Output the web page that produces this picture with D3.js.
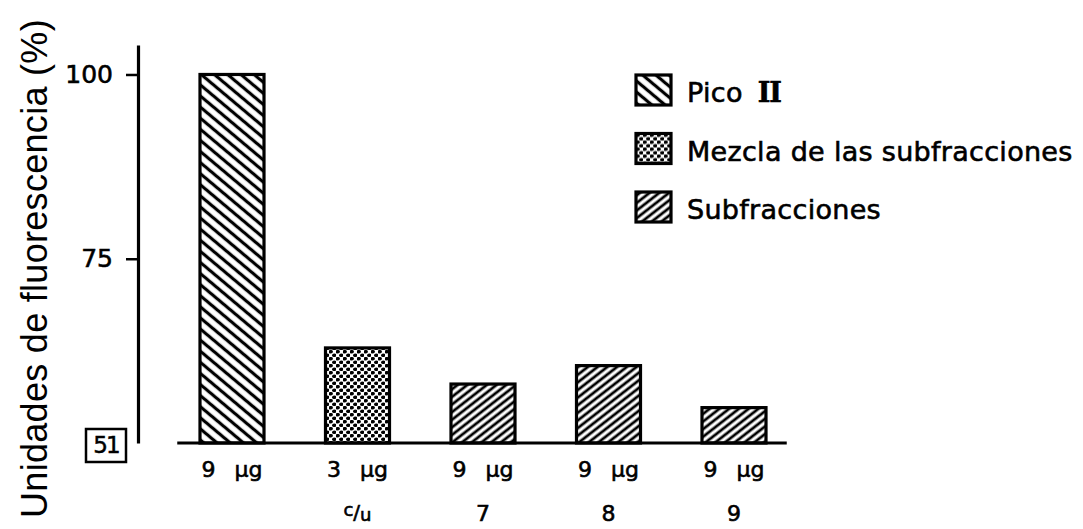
<!DOCTYPE html>
<html>
<head>
<meta charset="utf-8">
<script src="https://cdn.jsdelivr.net/npm/d3@7"></script>
<style>
  body { margin: 0; background: #fff; }
  svg { display: block; }
</style>
</head>
<body>
<div id="chart"></div>
<script>
// datos
const doses = ["9 µg", "3 µg", "9 µg", "9 µg", "9 µg"];
const fractions = ["", "c/u", "7", "8", "9"];
const values = [100, 62.9, 58.0, 60.5, 54.8];
const groups = ["pico", "mezcla", "sub", "sub", "sub"];
const legendKeys = ["pico", "mezcla", "sub"];
const legendLabels = ["Pico ", "Mezcla de las subfracciones", "Subfracciones"];
const yTicks = [75, 100];
const baseLabel = "51";

const W = 1083, H = 529;

const svg = d3.select("#chart")
  .append("svg")
  .attr("width", W)
  .attr("height", H);

// patrones de relleno
const defs = svg.append("defs");

function hatch(id, angle, gap, sw) {
  const p = defs.append("pattern")
    .attr("id", id)
    .attr("patternUnits", "userSpaceOnUse")
    .attr("width", gap)
    .attr("height", gap)
    .attr("patternTransform", `rotate(${angle})`);
  p.append("rect").attr("width", gap).attr("height", gap).attr("fill", "#fff");
  p.append("line")
    .attr("x1", gap / 2).attr("y1", -1)
    .attr("x2", gap / 2).attr("y2", gap + 1)
    .attr("stroke", "#000")
    .attr("stroke-width", sw);
}
hatch("pat-pico", -50, 8.5, 3.2);
hatch("pat-sub", 52, 6, 2.8);

const dots = defs.append("pattern")
  .attr("id", "pat-mezcla")
  .attr("patternUnits", "userSpaceOnUse")
  .attr("width", 7)
  .attr("height", 7);
dots.append("rect").attr("width", 7).attr("height", 7).attr("fill", "#fff");
[[1.75, 1.75], [5.25, 5.25]].forEach(([cx, cy]) => {
  dots.append("ellipse").attr("cx", cx).attr("cy", cy)
    .attr("rx", 2.2).attr("ry", 1.8).attr("fill", "#000");
});

const fillFor = { pico: "url(#pat-pico)", mezcla: "url(#pat-mezcla)", sub: "url(#pat-sub)" };

// escalas
const y = d3.scaleLinear().domain([50, 104]).range([443, 45]);
const x = d3.scaleBand()
  .domain(d3.range(values.length))
  .range([169.25, 796.75])
  .paddingInner(0.49)
  .paddingOuter(0.245);

// eje Y
const yAxis = svg.append("g")
  .attr("transform", "translate(138,0)")
  .call(d3.axisLeft(y).tickValues(yTicks).tickSize(12).tickSizeOuter(0).tickPadding(13));
yAxis.select(".domain").attr("stroke-width", 3.2);
yAxis.selectAll(".tick line").attr("stroke-width", 2.5);
yAxis.selectAll(".tick text")
  .attr("font-family", "DejaVu Sans")
  .attr("font-size", 25)
  .attr("fill", "#000")
  .attr("stroke", "#000")
  .attr("stroke-width", 0.6);

// etiqueta recuadrada de la base
const baseG = svg.append("g").attr("transform", `translate(106,${y(50) + 2})`);
baseG.append("rect")
  .attr("x", -20).attr("y", -16)
  .attr("width", 40).attr("height", 33)
  .attr("fill", "none").attr("stroke", "#000").attr("stroke-width", 2.5);
baseG.append("text")
  .attr("text-anchor", "middle")
  .attr("dy", "0.35em")
  .attr("font-family", "DejaVu Sans")
  .attr("font-size", 23)
  .attr("letter-spacing", -2)
  .attr("stroke", "#000")
  .attr("stroke-width", 0.5)
  .text(baseLabel);

// titulo del eje Y
svg.append("text")
  .attr("transform", `translate(47,${H / 2 + 4}) rotate(-90)`)
  .attr("text-anchor", "middle")
  .attr("font-family", "Liberation Sans")
  .attr("font-size", 36)
  .attr("letter-spacing", 0.3)
  .text("Unidades de fluorescencia (%)");

// barras
svg.append("g")
  .selectAll("rect")
  .data(values)
  .join("rect")
  .attr("x", (d, i) => x(i))
  .attr("y", d => y(d))
  .attr("width", x.bandwidth())
  .attr("height", d => y(50) - y(d))
  .attr("fill", (d, i) => fillFor[groups[i]])
  .attr("stroke", "#000")
  .attr("stroke-width", 3.2);

// linea base
svg.append("line")
  .attr("x1", x.range()[0] + 8)
  .attr("x2", x.range()[1] - 10)
  .attr("y1", y(50)).attr("y2", y(50))
  .attr("stroke", "#000")
  .attr("stroke-width", 3.2);

// etiquetas bajo las barras
const lab = svg.append("g")
  .attr("font-family", "DejaVu Sans")
  .attr("font-size", 22)
  .attr("text-anchor", "middle")
  .attr("stroke", "#000")
  .attr("stroke-width", 0.6);

lab.selectAll(".dose")
  .data(doses)
  .join("text")
  .attr("class", "dose")
  .attr("x", (d, i) => x(i) + x.bandwidth() / 2)
  .attr("y", 477)
  .attr("word-spacing", 12)
  .text(d => d);

lab.selectAll(".frac")
  .data(fractions)
  .join("text")
  .attr("class", "frac")
  .attr("x", (d, i) => x(i) + x.bandwidth() / 2)
  .attr("y", 521)
  .each(function (d) {
    const t = d3.select(this);
    if (d === "c/u") {
      t.append("tspan").attr("font-size", 18).attr("dy", -5).text("c");
      t.append("tspan").attr("font-size", 20).attr("dy", 3).text("/");
      t.append("tspan").attr("font-size", 18).attr("dy", 2).text("u");
    } else {
      t.text(d);
    }
  });

// leyenda
const legend = svg.append("g").attr("transform", "translate(636,75)");
const rows = legend.selectAll("g")
  .data(legendKeys)
  .join("g")
  .attr("transform", (d, i) => `translate(0,${i * 58.5})`);

rows.append("rect")
  .attr("width", 35)
  .attr("height", 30)
  .attr("fill", d => fillFor[d])
  .attr("stroke", "#000")
  .attr("stroke-width", 3.2);

rows.append("text")
  .attr("x", 51)
  .attr("y", 27)
  .attr("font-family", "DejaVu Sans")
  .attr("font-size", 27)
  .attr("letter-spacing", 0.3)
  .attr("stroke", "#000")
  .attr("stroke-width", 0.6)
  .each(function (d, i) {
    const t = d3.select(this);
    t.append("tspan").text(legendLabels[i]);
    if (d === "pico") {
      t.append("tspan")
        .attr("font-family", "DejaVu Serif")
        .attr("font-weight", "bold")
        .attr("dx", 6)
        .attr("letter-spacing", -1)
        .text("II");
    }
  });
</script>
</body>
</html>
